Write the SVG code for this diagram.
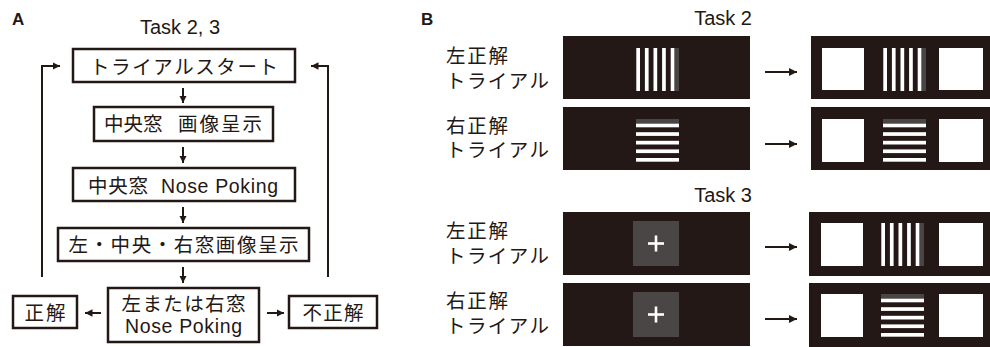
<svg xmlns="http://www.w3.org/2000/svg" xmlns:xlink="http://www.w3.org/1999/xlink" width="990" height="347" viewBox="0 0 990 347">
<style>
text{font-family:"Liberation Sans","Noto Sans CJK JP",sans-serif;fill:#231815}
.t{font-size:19.5px}
.m{text-anchor:middle}
.lab{font-size:17px;font-weight:bold}
.box{fill:#fff;stroke:#231815;stroke-width:2.5}
.ln{fill:none;stroke:#231815;stroke-width:2}
.scr{fill:#231815}
.wh{fill:#fff}
.gr{fill:#4b4646}
</style>
<defs>
<marker id="ah" viewBox="0 0 8 8" refX="8" refY="4" markerWidth="7.5" markerHeight="7.5" markerUnits="userSpaceOnUse" orient="auto"><path d="M0,0 L8,4 L0,8 z" fill="#231815"/></marker>
<marker id="ahb" viewBox="0 0 8 8" refX="8" refY="4" markerWidth="8" markerHeight="8" markerUnits="userSpaceOnUse" orient="auto"><path d="M0,0 L8,4 L0,8 z" fill="#231815"/></marker>
<g id="vgrat">
<rect x="0" y="0" width="43" height="43" fill="#231815"/>
<rect x="38.7" y="0" width="4.3" height="43" fill="#4a4545"/>
<rect x="0.3" y="0" width="3.7" height="43" class="wh"/>
<rect x="8.9" y="0" width="3.7" height="43" class="wh"/>
<rect x="17.5" y="0" width="3.7" height="43" class="wh"/>
<rect x="26.1" y="0" width="3.7" height="43" class="wh"/>
<rect x="34.7" y="0" width="3.7" height="43" class="wh"/>
</g>
<g id="hgrat">
<rect x="0" y="0" width="43" height="43" fill="#231815"/>
<rect x="0" y="0" width="43" height="4.3" fill="#4a4545"/>
<rect x="0" y="4.6" width="43" height="3.7" class="wh"/>
<rect x="0" y="13.2" width="43" height="3.7" class="wh"/>
<rect x="0" y="21.8" width="43" height="3.7" class="wh"/>
<rect x="0" y="30.4" width="43" height="3.7" class="wh"/>
<rect x="0" y="39" width="43" height="3.7" class="wh"/>
</g>
<g id="cross">
<rect x="0" y="0" width="46" height="45" class="gr"/>
<rect x="15" y="21.2" width="16" height="2.6" class="wh"/>
<rect x="21.7" y="14.5" width="2.6" height="16" class="wh"/>
</g>
</defs>

<!-- Panel A -->
<text class="lab" x="12" y="25">A</text>
<text class="t m" x="180" y="34" style="font-size:20px">Task 2, 3</text>

<g id="n-start"><rect class="box" x="73" y="49" width="222" height="33"/><text class="t m" x="184" y="74" textLength="188" lengthAdjust="spacing">トライアルスタート</text></g>
<g id="n-center-img"><rect class="box" x="94" y="107" width="179" height="34"/><text class="t" x="104" y="131">中央窓</text><text class="t" x="178" y="131" textLength="84" lengthAdjust="spacing">画像呈示</text></g>
<g id="n-center-poke"><rect class="box" x="73" y="168" width="222" height="33"/><text class="t" x="88" y="193" textLength="60" lengthAdjust="spacing">中央窓</text><text class="t" x="161" y="193" textLength="117" lengthAdjust="spacing">Nose Poking</text></g>
<g id="n-three-img"><rect class="box" x="58" y="228" width="251" height="33"/><text class="t m" x="183.5" y="252" textLength="230" lengthAdjust="spacing">左・中央・右窓画像呈示</text></g>
<g id="n-lr-poke"><rect class="box" x="108" y="288" width="151" height="54"/><text class="t m" x="183.5" y="311" textLength="124" lengthAdjust="spacing">左または右窓</text><text class="t m" x="183.5" y="333" textLength="117" lengthAdjust="spacing">Nose Poking</text></g>
<g id="n-correct"><rect class="box" x="13" y="296" width="64" height="32"/><text class="t m" x="45" y="320" textLength="41" lengthAdjust="spacing">正解</text></g>
<g id="n-incorrect"><rect class="box" x="289" y="296" width="88" height="32"/><text class="t m" x="333" y="320" textLength="61" lengthAdjust="spacing">不正解</text></g>

<g id="connectors">
<path class="ln" d="M183,88 L183,103" marker-end="url(#ah)"/>
<path class="ln" d="M183,147 L183,163" marker-end="url(#ah)"/>
<path class="ln" d="M183,207 L183,223" marker-end="url(#ah)"/>
<path class="ln" d="M183,267 L183,283" marker-end="url(#ah)"/>
<path class="ln" d="M101,313 L85,313" marker-end="url(#ah)"/>
<path class="ln" d="M267,313 L284,313" marker-end="url(#ah)"/>
<path class="ln" d="M42,277 L42,66 L60,66" marker-end="url(#ah)"/>
<path class="ln" d="M328,277 L328,66 L311,66" marker-end="url(#ah)"/>
<path class="ln" d="M765,72 L797,72" marker-end="url(#ahb)"/>
<path class="ln" d="M765,144 L797,144" marker-end="url(#ahb)"/>
<path class="ln" d="M765,247 L797,247" marker-end="url(#ahb)"/>
<path class="ln" d="M765,319 L797,319" marker-end="url(#ahb)"/>
</g>

<!-- Panel B -->
<text class="lab" x="421" y="25">B</text>
<text class="t" x="752" y="25" text-anchor="end" style="font-size:20px">Task 2</text>
<text class="t" x="752" y="202" text-anchor="end" style="font-size:20px">Task 3</text>

<g id="row1">
<text class="t" x="446" y="63" textLength="62" lengthAdjust="spacing">左正解</text>
<text class="t" x="446" y="88" textLength="103" lengthAdjust="spacing">トライアル</text>
<rect class="scr" x="563" y="36" width="187" height="63"/>
<use xlink:href="#vgrat" x="636" y="48"/>
<rect class="scr" x="811" y="36" width="190" height="63"/>
<rect class="wh" x="822" y="48" width="42" height="42"/>
<use xlink:href="#vgrat" x="883" y="48"/>
<rect class="wh" x="939" y="48" width="44" height="42"/>
</g>

<g id="row2">
<text class="t" x="446" y="133" textLength="62" lengthAdjust="spacing">右正解</text>
<text class="t" x="446" y="157" textLength="103" lengthAdjust="spacing">トライアル</text>
<rect class="scr" x="563" y="107" width="187" height="63"/>
<use xlink:href="#hgrat" x="636" y="119"/>
<rect class="scr" x="811" y="107" width="190" height="63"/>
<rect class="wh" x="822" y="119" width="42" height="43"/>
<use xlink:href="#hgrat" x="883" y="119"/>
<rect class="wh" x="939" y="119" width="44" height="43"/>
</g>

<g id="row3">
<text class="t" x="446" y="238" textLength="62" lengthAdjust="spacing">左正解</text>
<text class="t" x="446" y="263" textLength="103" lengthAdjust="spacing">トライアル</text>
<rect class="scr" x="563" y="212" width="187" height="63"/>
<use xlink:href="#cross" x="633" y="221"/>
<rect class="scr" x="809" y="212" width="190" height="64"/>
<rect class="wh" x="821" y="223" width="42" height="43"/>
<use xlink:href="#vgrat" x="881" y="223"/>
<rect class="wh" x="939" y="223" width="44" height="43"/>
</g>

<g id="row4">
<text class="t" x="446" y="308" textLength="62" lengthAdjust="spacing">右正解</text>
<text class="t" x="446" y="333" textLength="103" lengthAdjust="spacing">トライアル</text>
<rect class="scr" x="563" y="283" width="187" height="63"/>
<use xlink:href="#cross" x="633" y="292"/>
<rect class="scr" x="809" y="283" width="190" height="64"/>
<rect class="wh" x="821" y="294" width="42" height="43"/>
<use xlink:href="#hgrat" x="881" y="294"/>
<rect class="wh" x="939" y="294" width="44" height="43"/>
</g>
</svg>
